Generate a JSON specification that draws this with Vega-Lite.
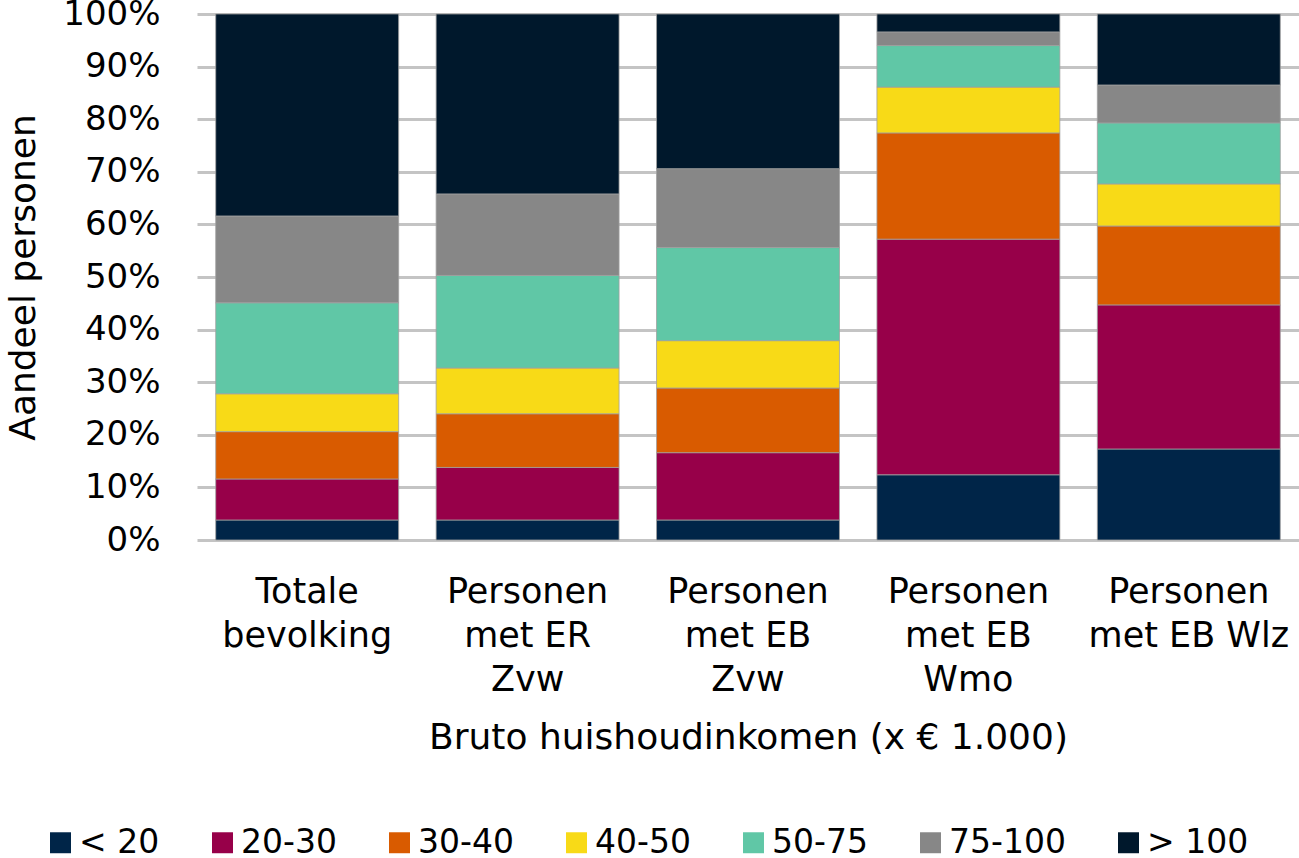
{
  "$schema": "https://vega.github.io/schema/vega-lite/v6.json",
  "autosize": {"type": "none"},
  "padding": {"left": 197, "top": 14, "right": 0, "bottom": 318},
  "width": 1102,
  "height": 526,
  "background": "white",
  "config": {
    "font": "DejaVu Sans",
    "view": {"stroke": null},
    "axis": {"labelColor": "#000000", "titleColor": "#000000", "titleFontWeight": "normal"}
  },
  "data": {
    "values": [
      {"groep": "Totale bevolking", "klasse": "< 20", "k": 1, "aandeel": 3.8},
      {"groep": "Totale bevolking", "klasse": "20-30", "k": 2, "aandeel": 7.8},
      {"groep": "Totale bevolking", "klasse": "30-40", "k": 3, "aandeel": 9.0},
      {"groep": "Totale bevolking", "klasse": "40-50", "k": 4, "aandeel": 7.2},
      {"groep": "Totale bevolking", "klasse": "50-75", "k": 5, "aandeel": 17.3},
      {"groep": "Totale bevolking", "klasse": "75-100", "k": 6, "aandeel": 16.5},
      {"groep": "Totale bevolking", "klasse": "> 100", "k": 7, "aandeel": 38.4},
      {"groep": "Personen met ER Zvw", "klasse": "< 20", "k": 1, "aandeel": 3.8},
      {"groep": "Personen met ER Zvw", "klasse": "20-30", "k": 2, "aandeel": 10.0},
      {"groep": "Personen met ER Zvw", "klasse": "30-40", "k": 3, "aandeel": 10.2},
      {"groep": "Personen met ER Zvw", "klasse": "40-50", "k": 4, "aandeel": 8.7},
      {"groep": "Personen met ER Zvw", "klasse": "50-75", "k": 5, "aandeel": 17.6},
      {"groep": "Personen met ER Zvw", "klasse": "75-100", "k": 6, "aandeel": 15.5},
      {"groep": "Personen met ER Zvw", "klasse": "> 100", "k": 7, "aandeel": 34.2},
      {"groep": "Personen met EB Zvw", "klasse": "< 20", "k": 1, "aandeel": 3.8},
      {"groep": "Personen met EB Zvw", "klasse": "20-30", "k": 2, "aandeel": 12.8},
      {"groep": "Personen met EB Zvw", "klasse": "30-40", "k": 3, "aandeel": 12.3},
      {"groep": "Personen met EB Zvw", "klasse": "40-50", "k": 4, "aandeel": 9.0},
      {"groep": "Personen met EB Zvw", "klasse": "50-75", "k": 5, "aandeel": 17.7},
      {"groep": "Personen met EB Zvw", "klasse": "75-100", "k": 6, "aandeel": 15.0},
      {"groep": "Personen met EB Zvw", "klasse": "> 100", "k": 7, "aandeel": 29.4},
      {"groep": "Personen met EB Wmo", "klasse": "< 20", "k": 1, "aandeel": 12.4},
      {"groep": "Personen met EB Wmo", "klasse": "20-30", "k": 2, "aandeel": 44.8},
      {"groep": "Personen met EB Wmo", "klasse": "30-40", "k": 3, "aandeel": 20.2},
      {"groep": "Personen met EB Wmo", "klasse": "40-50", "k": 4, "aandeel": 8.7},
      {"groep": "Personen met EB Wmo", "klasse": "50-75", "k": 5, "aandeel": 7.9},
      {"groep": "Personen met EB Wmo", "klasse": "75-100", "k": 6, "aandeel": 2.6},
      {"groep": "Personen met EB Wmo", "klasse": "> 100", "k": 7, "aandeel": 3.4},
      {"groep": "Personen met EB Wlz", "klasse": "< 20", "k": 1, "aandeel": 17.3},
      {"groep": "Personen met EB Wlz", "klasse": "20-30", "k": 2, "aandeel": 27.4},
      {"groep": "Personen met EB Wlz", "klasse": "30-40", "k": 3, "aandeel": 15.0},
      {"groep": "Personen met EB Wlz", "klasse": "40-50", "k": 4, "aandeel": 8.0},
      {"groep": "Personen met EB Wlz", "klasse": "50-75", "k": 5, "aandeel": 11.6},
      {"groep": "Personen met EB Wlz", "klasse": "75-100", "k": 6, "aandeel": 7.2},
      {"groep": "Personen met EB Wlz", "klasse": "> 100", "k": 7, "aandeel": 13.5}
    ]
  },
  "mark": {"type": "bar", "stroke": "#a0a0a0", "strokeWidth": 0.8},
  "encoding": {
    "x": {
      "field": "groep",
      "type": "nominal",
      "sort": null,
      "scale": {"paddingInner": 0.17, "paddingOuter": 0.085},
      "axis": {
        "title": "Bruto huishoudinkomen (x € 1.000)",
        "titleFontSize": 36,
        "titlePadding": 23,
        "labelFontSize": 35,
        "labelAngle": 0,
        "labelPadding": 34,
        "labelLineHeight": 44,
        "labelBaseline": "top",
        "labelLimit": 400,
        "ticks": false,
        "domain": false,
        "labelExpr": "{'Totale bevolking': ['Totale', 'bevolking'], 'Personen met ER Zvw': ['Personen', 'met ER', 'Zvw'], 'Personen met EB Zvw': ['Personen', 'met EB', 'Zvw'], 'Personen met EB Wmo': ['Personen', 'met EB', 'Wmo'], 'Personen met EB Wlz': ['Personen', 'met EB Wlz']}[datum.label]"
      }
    },
    "y": {
      "field": "aandeel",
      "type": "quantitative",
      "stack": "zero",
      "scale": {"domain": [0, 100], "nice": false},
      "axis": {
        "title": "Aandeel personen",
        "titleFontSize": 36,
        "titlePadding": 20,
        "labelFontSize": 34,
        "labelPadding": 37,
        "values": [0, 10, 20, 30, 40, 50, 60, 70, 80, 90, 100],
        "labelExpr": "datum.value + '%'",
        "ticks": false,
        "domain": false,
        "grid": true,
        "gridColor": "#c4c4c4",
        "gridWidth": 3
      }
    },
    "color": {
      "field": "klasse",
      "type": "nominal",
      "sort": ["< 20", "20-30", "30-40", "40-50", "50-75", "75-100", "> 100"],
      "scale": {
        "domain": ["< 20", "20-30", "30-40", "40-50", "50-75", "75-100", "> 100"],
        "range": ["#002548", "#970049", "#d95b00", "#f8da17", "#60c7a6", "#878787", "#00182c"]
      },
      "legend": {
        "title": null,
        "orient": "none",
        "direction": "horizontal",
        "columns": 7,
        "legendX": -153,
        "legendY": 812,
        "padding": 0,
        "symbolType": "square",
        "symbolSize": 440,
        "symbolStrokeWidth": 0,
        "labelFontSize": 33,
        "labelColor": "#000000",
        "labelOffset": 2,
        "columnPadding": 46,
        "labelLimit": 300
      }
    },
    "order": {"field": "k", "type": "quantitative"}
  }
}
